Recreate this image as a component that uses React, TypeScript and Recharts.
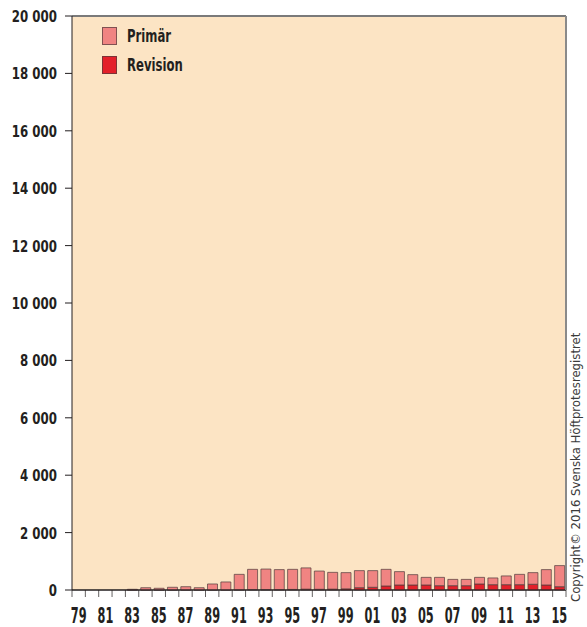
import React from 'react';
import { BarChart, Bar, XAxis, YAxis, CartesianGrid, ReferenceLine } from 'recharts';

// years 1979-2015, shown as two digits
const years = [
  '79', '80', '81', '82', '83', '84', '85', '86', '87', '88', '89', '90',
  '91', '92', '93', '94', '95', '96', '97', '98', '99', '00', '01', '02',
  '03', '04', '05', '06', '07', '08', '09', '10', '11', '12', '13', '14', '15',
];
const primar = [
  0, 0, 0, 0, 20, 75, 55, 90, 110, 75, 205, 275,
  535, 705, 715, 695, 700, 740, 635, 585, 565, 595, 580, 580,
  465, 360, 265, 290, 220, 220, 230, 235, 305, 360, 405, 535, 735,
];
const revision = [
  0, 0, 0, 0, 5, 5, 5, 5, 5, 5, 5, 5,
  10, 15, 15, 15, 20, 30, 25, 30, 40, 80, 95, 140,
  175, 175, 175, 150, 150, 150, 210, 185, 185, 185, 200, 175, 115,
];
const yTicks = [0, 2000, 4000, 6000, 8000, 10000, 12000, 14000, 16000, 18000, 20000];

const data = years.map((year, i) => ({ year, primar: primar[i], revision: revision[i] }));

const FONT = '"DejaVu Sans Condensed", "Liberation Sans Narrow", sans-serif';
const INK = '#231F20';
const BG = '#FCE4C4';
const PRIMAR = '#F08482';
const REVISION = '#E3202A';
const W = 587;
const H = 627;
const LEFT = 72;
const RIGHT = 21;
const BAND = (W - LEFT - RIGHT) / years.length;

const fmt = (v: number) => String(v).replace(/\B(?=(\d{3})+(?!\d))/g, ' ');

const XTick = (props: any) => {
  const { x, y, payload } = props;
  const idx = payload.index;
  const half = BAND / 2;
  return (
    <g>
      <line x1={x - half} x2={x - half} y1={y} y2={y + 7} stroke={INK} strokeOpacity={0.7} />
      {idx === years.length - 1 && (
        <line x1={x + half} x2={x + half} y1={y} y2={y + 7} stroke={INK} strokeOpacity={0.7} />
      )}
      {idx % 2 === 0 && (
        <text
          transform={`translate(${x},${y + 33}) scale(0.6,1)`}
          textAnchor="middle"
          fontFamily={FONT}
          fontWeight="bold"
          fontSize={21}
          fill={INK}
        >
          {payload.value}
        </text>
      )}
    </g>
  );
};

const YTick = (props: any) => {
  const { x, y, payload } = props;
  return (
    <text
      transform={`translate(${x},${y + 6}) scale(0.82,1)`}
      textAnchor="end"
      fontFamily={FONT}
      fontWeight="bold"
      fontSize={16}
      fill={INK}
    >
      {fmt(payload.value)}
    </text>
  );
};

const LegendItem = ({ color, label }: { color: string; label: string }) => (
  <div style={{ display: 'flex', alignItems: 'center', height: 29 }}>
    <div
      style={{
        width: 13,
        height: 16,
        background: color,
        border: '1px solid rgba(80,60,60,0.7)',
        marginRight: 10,
      }}
    />
    <span
      style={{
        display: 'inline-block',
        transform: 'scale(0.72,1)',
        transformOrigin: 'left center',
        fontFamily: FONT,
        fontWeight: 'bold',
        fontSize: 18,
        color: INK,
      }}
    >
      {label}
    </span>
  </div>
);

const App: React.FC = () => {
  return (
    <div style={{ position: 'absolute', left: 0, top: 0, width: W, height: H }}>
      <BarChart width={W} height={H} data={data} margin={{ top: 16, right: 0, bottom: 0, left: 0 }}>
        <CartesianGrid vertical={false} stroke={INK} fill={BG} fillOpacity={1} />
        <XAxis
          dataKey="year"
          interval={0}
          height={37}
          tickSize={0}
          tickMargin={0}
          tickLine={false}
          axisLine={{ stroke: INK }}
          tick={<XTick />}
        />
        <YAxis
          yAxisId="l"
          width={LEFT}
          domain={[0, 20000]}
          ticks={yTicks}
          tickSize={7}
          tickMargin={8}
          axisLine={{ stroke: INK }}
          tickLine={{ stroke: INK }}
          tick={<YTick />}
        />
        <YAxis
          yAxisId="r"
          orientation="right"
          width={RIGHT}
          tick={false}
          tickLine={false}
          axisLine={{ stroke: '#8a8a8a', strokeWidth: 2 }}
        />
        <ReferenceLine yAxisId="l" y={20000} stroke="#7a7a7a" strokeWidth={2} />
        <Bar
          yAxisId="l"
          dataKey="revision"
          stackId="a"
          fill={REVISION}
          stroke="#503c3c"
          strokeOpacity={0.7}
          barSize={10}
          isAnimationActive={false}
        />
        <Bar
          yAxisId="l"
          dataKey="primar"
          stackId="a"
          fill={PRIMAR}
          stroke="#503c3c"
          strokeOpacity={0.7}
          barSize={10}
          isAnimationActive={false}
        />
      </BarChart>
      <div style={{ position: 'absolute', left: 102, top: 21 }}>
        <LegendItem color={PRIMAR} label="Primär" />
        <LegendItem color={REVISION} label="Revision" />
      </div>
      <div
        style={{
          position: 'absolute',
          left: 567,
          top: 602,
          transform: 'rotate(-90deg)',
          transformOrigin: 'left top',
          whiteSpace: 'nowrap',
          fontFamily: FONT,
          fontSize: 13,
          lineHeight: '17px',
          color: '#3a3a3a',
        }}
      >
        Copyright© 2016 Svenska Höftprotesregistret
      </div>
    </div>
  );
};

export default App;
